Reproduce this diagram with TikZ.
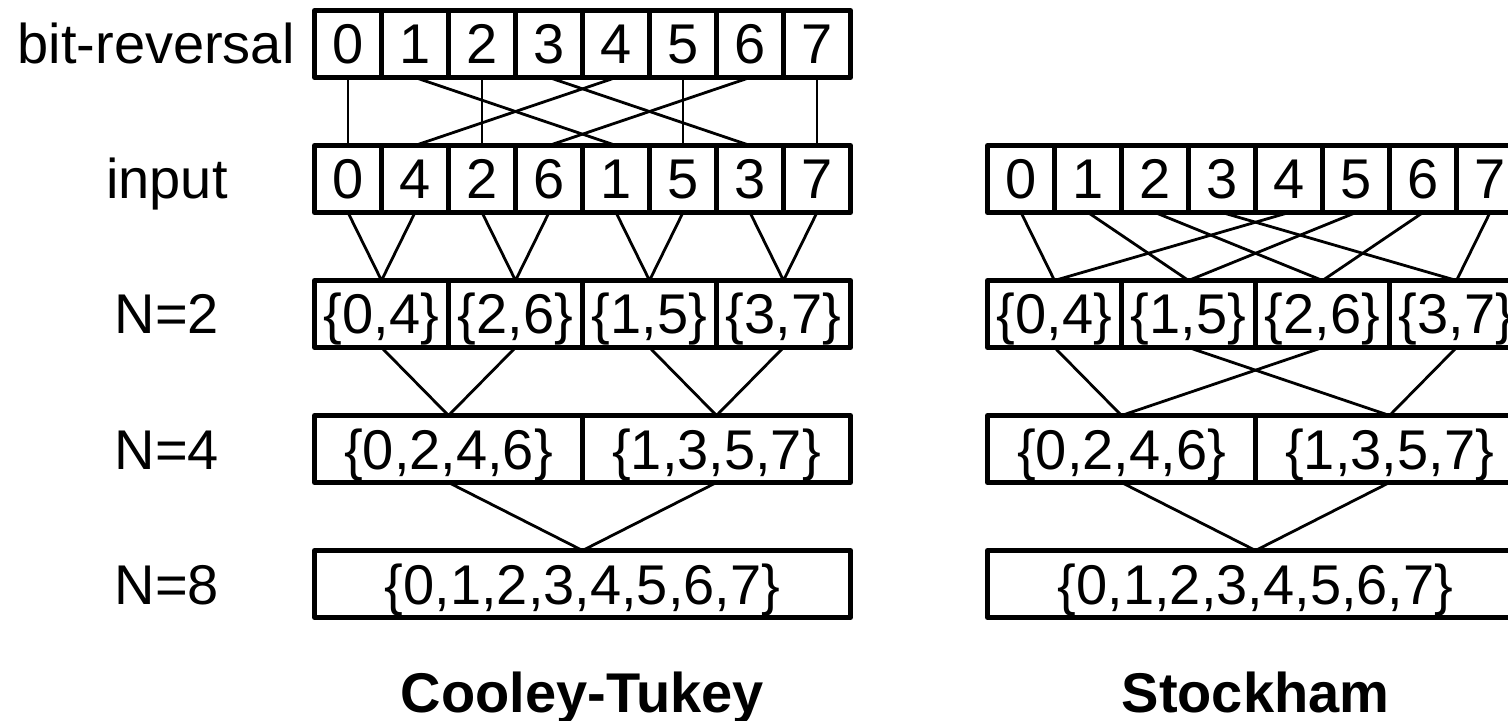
\documentclass[tikz,border=0pt]{standalone}
\usepackage{fontspec}
\setmainfont{Liberation Sans}
\usetikzlibrary{positioning, calc}

\tikzset{
  cell/.style={draw, line width=2.5pt, line join=round, minimum height=33.5pt,
    inner sep=0pt, outer sep=0pt, text height=20pt, text depth=0pt},
  wire/.style={line width=1.4pt, line join=round},
  rowlabel/.style={inner sep=0pt, text height=20pt, text depth=0pt},
  algname/.style={inner sep=0pt, anchor=base, font=\fontsize{28}{34}\selectfont\bfseries}
}

\begin{document}
\begin{tikzpicture}[x=0.5pt, y=-0.5pt, font=\fontsize{28}{34}\selectfont]
  \useasboundingbox (0,0) rectangle (1508,721);
  \clip (0,0) rectangle (1508,721);

  % row labels
  \node[rowlabel, anchor=east] (lrev) at (295,44) {bit-reversal};
  \foreach \y/\t/\n in {179/input/lin, 314/N=2/lII, 449/N=4/lIV, 584/N=8/lVIII}
    \node[rowlabel] (\n) at (167,\y) {\t};

  % Cooley-Tukey
  \foreach \v [count=\i from 0] in {0,...,7}
    \node[cell, minimum width=33.5pt] (ctrev\i) at ({348+67*\i},44) {\v};
  \foreach \v [count=\i from 0] in {0,4,2,6,1,5,3,7}
    \node[cell, minimum width=33.5pt] (ctin\i) at ({348+67*\i},179) {\v};
  \foreach \t [count=\i from 0] in {{\{0,4\}},{\{2,6\}},{\{1,5\}},{\{3,7\}}}
    \node[cell, minimum width=67pt] (ctII\i) at ({381.5+134*\i},314) {\t};
  \node[cell, minimum width=134pt] (ctIV0) at (448.5,449) {\{0,2,4,6\}};
  \node[cell, minimum width=134pt] (ctIV1) at (716.5,449) {\{1,3,5,7\}};
  \node[cell, minimum width=268pt] (ctVIII) at (582.5,584) {\{0,1,2,3,4,5,6,7\}};

  \foreach \a/\b in {0/0,1/4,2/2,3/6,4/1,5/5,6/3,7/7}
    \draw[wire] (ctrev\a.south) -- (ctin\b.north);
  \foreach \a/\b/\k in {0/1/0,2/3/1,4/5/2,6/7/3}
    \draw[wire] (ctin\a.south) -- (ctII\k.north) -- (ctin\b.south);
  \foreach \a/\b/\k in {0/1/0,2/3/1}
    \draw[wire] (ctII\a.south) -- (ctIV\k.north) -- (ctII\b.south);
  \draw[wire] (ctIV0.south) -- (ctVIII.north) -- (ctIV1.south);

  % Stockham
  \foreach \v in {0,...,7}
    \node[cell, minimum width=33.5pt] (shin\v) at ({1021+67*\v},179) {\v};
  \foreach \t [count=\i from 0] in {{\{0,4\}},{\{1,5\}},{\{2,6\}},{\{3,7\}}}
    \node[cell, minimum width=67pt] (shII\i) at ({1054.5+134*\i},314) {\t};
  \node[cell, minimum width=134pt] (shIV0) at (1121.5,449) {\{0,2,4,6\}};
  \node[cell, minimum width=134pt] (shIV1) at (1389.5,449) {\{1,3,5,7\}};
  \node[cell, minimum width=268pt] (shVIII) at (1255.5,584) {\{0,1,2,3,4,5,6,7\}};

  \foreach \a/\k in {0/0,1/1,2/2,3/3,4/0,5/1,6/2,7/3}
    \draw[wire] (shin\a.south) -- (shII\k.north);
  \foreach \a/\k in {0/0,1/1,2/0,3/1}
    \draw[wire] (shII\a.south) -- (shIV\k.north);
  \draw[wire] (shIV0.south) -- (shVIII.north) -- (shIV1.south);

  \node[algname] (ctname) at (582.5,712) {Cooley-Tukey};
  \node[algname] (shname) at (1255.5,712) {Stockham};
\end{tikzpicture}
\end{document}
